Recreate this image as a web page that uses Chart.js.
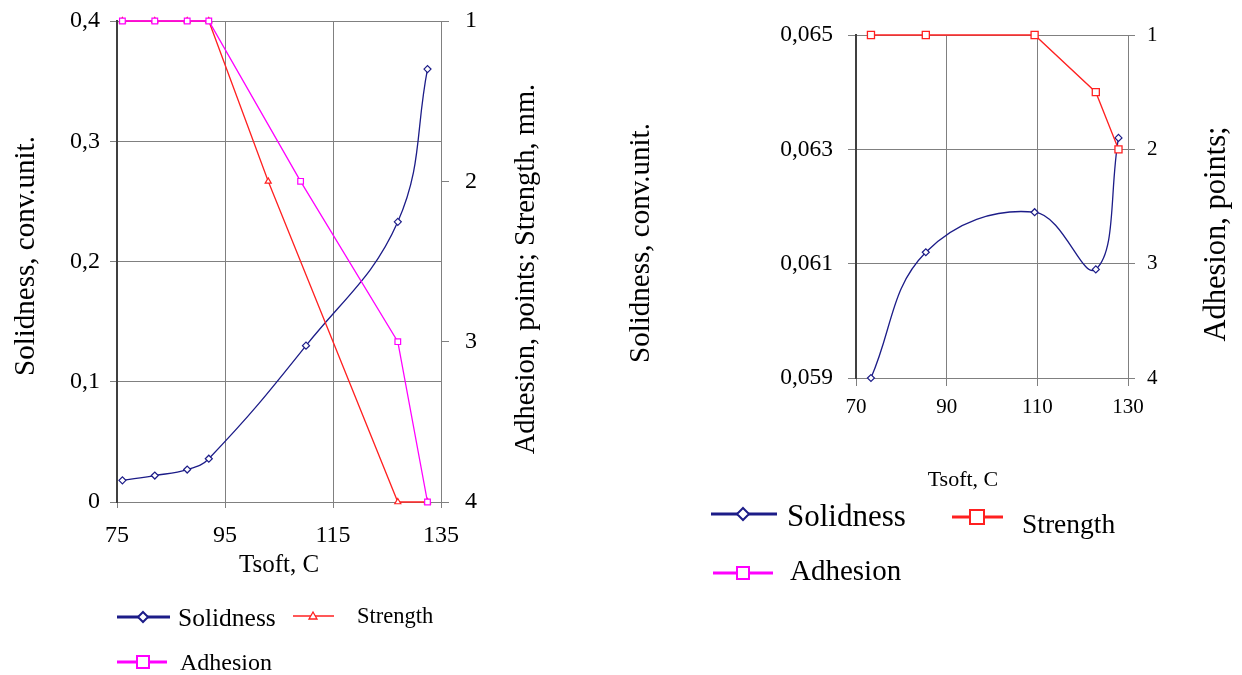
<!DOCTYPE html>
<html>
<head>
<meta charset="utf-8">
<script src="https://cdn.jsdelivr.net/npm/chart.js@4/dist/chart.umd.min.js"></script>
<style>
  body { margin: 0; background: #fff; }
  #page { position: relative; width: 1242px; height: 675px; overflow: hidden; }
  .box { position: absolute; top: 0; height: 675px; }
  #overlay { position: absolute; left: 0; top: 0; pointer-events: none; }
  #overlay text { font-family: "Liberation Serif", "Times New Roman", serif; fill: #000; }
</style>
</head>
<body>
<div id="page">
  <div class="box" style="left:0;width:600px"><canvas id="leftChart"></canvas></div>
  <div class="box" style="left:600px;width:642px"><canvas id="rightChart"></canvas></div>
  <svg id="overlay" width="1242" height="675">
    <!-- axis titles -->
    <text x="24" y="256" font-size="29" text-anchor="middle" dominant-baseline="central" transform="rotate(-90 24 256)">Solidness, conv.unit.</text>
    <text x="524" y="269" font-size="28.5" text-anchor="middle" dominant-baseline="central" transform="rotate(-90 524 269)">Adhesion, points; Strength, mm.</text>
    <text x="279" y="563" font-size="25" text-anchor="middle" dominant-baseline="central">Tsoft, C</text>
    <text x="639" y="243" font-size="29" text-anchor="middle" dominant-baseline="central" transform="rotate(-90 639 243)">Solidness, conv.unit.</text>
    <text x="1215" y="234" font-size="30.5" text-anchor="middle" dominant-baseline="central" transform="rotate(-90 1215 234)">Adhesion, points;</text>
    <text x="963" y="478" font-size="22" text-anchor="middle" dominant-baseline="central">Tsoft, C</text>

    <!-- left legend -->
    <line x1="117" y1="617" x2="170" y2="617" stroke="#1c1c88" stroke-width="3"/>
    <polygon points="143,612 148,617 143,622 138,617" fill="#fff" stroke="#1c1c88" stroke-width="2"/>
    <text x="178" y="617" font-size="25.5" dominant-baseline="central">Solidness</text>
    <line x1="293" y1="616" x2="334" y2="616" stroke="#ff2020" stroke-width="1.5"/>
    <polygon points="313,612 317,619 309,619" fill="#fff" stroke="#ff2020" stroke-width="1.3"/>
    <text x="357" y="615" font-size="22.5" dominant-baseline="central">Strength</text>
    <line x1="117" y1="662" x2="167" y2="662" stroke="#ff00ff" stroke-width="3"/>
    <rect x="137" y="656" width="12" height="12" fill="#fff" stroke="#ff00ff" stroke-width="2"/>
    <text x="180" y="662" font-size="24" dominant-baseline="central">Adhesion</text>

    <!-- right legend -->
    <line x1="711" y1="514" x2="777" y2="514" stroke="#1c1c88" stroke-width="3"/>
    <polygon points="743,508 749,514 743,520 737,514" fill="#fff" stroke="#1c1c88" stroke-width="2"/>
    <text x="787" y="515" font-size="31" dominant-baseline="central">Solidness</text>
    <line x1="952" y1="517" x2="1003" y2="517" stroke="#ff2020" stroke-width="3"/>
    <rect x="970" y="510" width="14" height="14" fill="#fff" stroke="#ff2020" stroke-width="2"/>
    <text x="1022" y="523" font-size="27.5" dominant-baseline="central">Strength</text>
    <line x1="713" y1="573" x2="773" y2="573" stroke="#ff00ff" stroke-width="3"/>
    <rect x="737" y="567" width="12" height="12" fill="#fff" stroke="#ff00ff" stroke-width="2"/>
    <text x="790" y="570" font-size="29" dominant-baseline="central">Adhesion</text>
  </svg>
</div>
<script>
// ---- left chart data ----
const leftSolidT = [76, 82, 88, 92, 110, 127, 132.5];
const leftSolid = [0.018, 0.022, 0.027, 0.036, 0.13, 0.233, 0.36];
const leftStrengthT = [76, 82, 88, 92, 103, 127, 132.5];
const leftStrength = [1, 1, 1, 1, 2, 4, 4];
const leftAdhesionT = [76, 82, 88, 92, 109, 127, 132.5];
const leftAdhesion = [1, 1, 1, 1, 2, 3, 4];
const leftXTicks = [75, 95, 115, 135];
const leftYTicks = [0, 0.1, 0.2, 0.3, 0.4];
const leftY2Ticks = [1, 2, 3, 4];

// ---- right chart data ----
const rightT = [73.3, 85.4, 109.4, 122.9, 127.9];
const rightSolid = [0.059, 0.0612, 0.0619, 0.0609, 0.0632];
const rightStrength = [1, 1, 1, 1.5, 2];
const rightAdhesion = [];
const rightXTicks = [70, 90, 110, 130];
const rightYTicks = [0.059, 0.061, 0.063, 0.065];
const rightY2Ticks = [1, 2, 3, 4];

const serif = '"Liberation Serif", "Times New Roman", serif';
const NAVY = '#1c1c88', RED = '#ff2020', MAGENTA = '#ff00ff';

function pts(xs, ys) {
  return ys.map((y, i) => ({ x: xs[i], y: y }));
}
function fixTicks(list) {
  return function (scale) { scale.ticks = list.map(v => ({ value: v })); };
}
// pin axis box sizes so the plot areas land where the original has them
function fixSize(w, h) {
  return function (scale) {
    if (w != null) {
      scale.width = w;
      scale.paddingTop = 0;
      scale.paddingBottom = 0;
    }
    if (h != null) scale.height = h;
  };
}

// left: area 117..441 x 21..502
new Chart(document.getElementById('leftChart'), {
  type: 'line',
  data: {
    datasets: [
      { label: 'Adhesion', data: pts(leftAdhesionT, leftAdhesion), yAxisID: 'y2',
        borderColor: MAGENTA, borderWidth: 1.3, pointStyle: 'rect', pointRadius: 4,
        pointBackgroundColor: '#fff', pointBorderColor: MAGENTA, pointBorderWidth: 1.2, tension: 0, clip: false },
      { label: 'Strength', data: pts(leftStrengthT, leftStrength), yAxisID: 'y2',
        borderColor: RED, borderWidth: 1.3, pointStyle: 'triangle', pointRadius: 3.5,
        pointBackgroundColor: '#fff', pointBorderColor: RED, pointBorderWidth: 1.2, tension: 0, clip: false },
      { label: 'Solidness', data: pts(leftSolidT, leftSolid), yAxisID: 'y',
        borderColor: NAVY, borderWidth: 1.3, pointStyle: 'rectRot', pointRadius: 3.5,
        pointBackgroundColor: '#fff', pointBorderColor: NAVY, pointBorderWidth: 1.2, tension: 0.4, clip: false }
    ]
  },
  options: {
    responsive: true, maintainAspectRatio: false, animation: false,
    layout: { padding: { top: 21, left: 0, right: 0, bottom: 0 } },
    plugins: { legend: { display: false }, tooltip: { enabled: false } },
    scales: {
      x: { type: 'linear', min: 75, max: 135,
        afterBuildTicks: fixTicks(leftXTicks), afterFit: fixSize(null, 173),
        grid: { color: '#808080', lineWidth: 1, tickLength: 6 },
        border: { color: '#808080', width: 1 },
        ticks: { color: '#000', font: { family: serif, size: 24 }, padding: 13, maxRotation: 0 } },
      y: { type: 'linear', position: 'left', min: 0, max: 0.4,
        afterBuildTicks: fixTicks(leftYTicks), afterFit: fixSize(117, null),
        grid: { color: '#808080', lineWidth: 1, tickLength: 7 },
        border: { color: '#404040', width: 2 },
        ticks: { color: '#000', font: { family: serif, size: 24 }, padding: 10,
          callback: v => v === 0 ? '0' : v.toFixed(1).replace('.', ',') } },
      y2: { type: 'linear', position: 'right', min: 1, max: 4, reverse: true,
        afterBuildTicks: fixTicks(leftY2Ticks), afterFit: fixSize(159, null),
        grid: { drawOnChartArea: false, color: '#808080', tickLength: 8 },
        border: { display: false },
        ticks: { color: '#000', font: { family: serif, size: 24 }, padding: 16 } }
    }
  }
});

// right: area 856..1128 x 35..378 (canvas starts at 600)
new Chart(document.getElementById('rightChart'), {
  type: 'line',
  data: {
    datasets: [
      { label: 'Adhesion', data: pts(rightT, rightAdhesion), yAxisID: 'y2',
        borderColor: MAGENTA, borderWidth: 1.3, pointStyle: 'rect', pointRadius: 5,
        pointBackgroundColor: '#fff', pointBorderColor: MAGENTA, tension: 0, clip: false },
      { label: 'Strength', data: pts(rightT, rightStrength), yAxisID: 'y2',
        borderColor: RED, borderWidth: 1.3, pointStyle: 'rect', pointRadius: 5,
        pointBackgroundColor: '#fff', pointBorderColor: RED, pointBorderWidth: 1.3, tension: 0, clip: false },
      { label: 'Solidness', data: pts(rightT, rightSolid), yAxisID: 'y',
        borderColor: NAVY, borderWidth: 1.3, pointStyle: 'rectRot', pointRadius: 3.5,
        pointBackgroundColor: '#fff', pointBorderColor: NAVY, pointBorderWidth: 1.2, tension: 0.4, clip: false }
    ]
  },
  options: {
    responsive: true, maintainAspectRatio: false, animation: false,
    layout: { padding: { top: 35, left: 0, right: 0, bottom: 0 } },
    plugins: { legend: { display: false }, tooltip: { enabled: false } },
    scales: {
      x: { type: 'linear', min: 70, max: 130,
        afterBuildTicks: fixTicks(rightXTicks), afterFit: fixSize(null, 297),
        grid: { color: '#808080', lineWidth: 1, tickLength: 8 },
        border: { color: '#808080', width: 1 },
        ticks: { color: '#000', font: { family: serif, size: 21 }, padding: 9, maxRotation: 0 } },
      y: { type: 'linear', position: 'left', min: 0.059, max: 0.065,
        afterBuildTicks: fixTicks(rightYTicks), afterFit: fixSize(256, null),
        grid: { color: '#808080', lineWidth: 1, tickLength: 8 },
        border: { color: '#404040', width: 2 },
        ticks: { color: '#000', font: { family: serif, size: 23.5 }, padding: 15,
          callback: v => v.toFixed(3).replace('.', ',') } },
      y2: { type: 'linear', position: 'right', min: 1, max: 4, reverse: true,
        afterBuildTicks: fixTicks(rightY2Ticks), afterFit: fixSize(114, null),
        grid: { drawOnChartArea: false, color: '#808080', tickLength: 7 },
        border: { display: false },
        ticks: { color: '#000', font: { family: serif, size: 21 }, padding: 12 } }
    }
  }
});
</script>
</body>
</html>
